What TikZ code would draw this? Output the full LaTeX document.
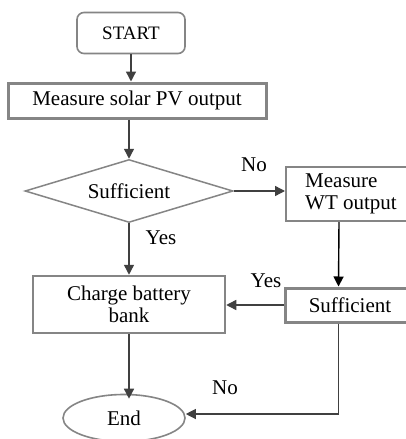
\documentclass[tikz,border=0pt]{standalone}
\usepackage{fontspec}
\setmainfont{Liberation Serif}
\usetikzlibrary{shapes.geometric,arrows.meta,calc}
\definecolor{boxgray}{HTML}{858585}
\definecolor{arrgray}{HTML}{404040}
\begin{document}
\begin{tikzpicture}[x=1pt,y=-1pt,
  every node/.style={font=\fontsize{21}{21.5}\selectfont, text=black},
  boxstyle/.style={draw=boxgray, rectangle, inner sep=0pt},
  flow/.style={draw=arrgray, line width=1.4pt, -{Triangle[length=10pt,width=10pt]}},
  lbl/.style={inner sep=0pt}]
\useasboundingbox (0,0) rectangle (406,439);
\fill[white] (0,0) rectangle (406,439);

\node[boxstyle, line width=1.6pt, rounded corners=7pt, minimum width=108pt, minimum height=41pt, font=\fontsize{19}{20}\selectfont] (start) at (131,33) {START};
\node[boxstyle, line width=3pt, minimum width=258pt, minimum height=35pt] (pv) at (137,100.5) {Measure solar PV output};
\node[draw=boxgray, line width=1.5pt, diamond, aspect=3.3, inner sep=0pt, minimum width=208pt, minimum height=63pt] (dec) at (129,191) {Sufficient};
\node[boxstyle, line width=2pt, minimum width=130pt, minimum height=54pt, align=left] (wt) at (351,194) {Measure\\WT output};
\node[boxstyle, line width=2.5pt, minimum width=192pt, minimum height=57pt, align=center] (charge) at (129,304.5) {Charge battery\\bank};
\node[boxstyle, line width=3pt, minimum width=130pt, minimum height=34pt] (suf) at (350,305) {Sufficient};
\node[draw=boxgray, line width=1.6pt, ellipse, inner sep=0pt, minimum width=122pt, minimum height=47pt] (end) at (124,418) {End};

\draw[flow] (start.south) -- (start.south |- pv.north);
\draw[flow] (dec.north |- pv.south) -- (dec.north);
\draw[flow] (dec.east) -- (dec.east -| wt.west);
\draw[flow] (dec.south) -- (charge.north);
\draw[flow, draw=black] ([xshift=54pt]wt.south west) -- ([xshift=55pt]suf.north west);
\draw[flow] (suf.west) -- (suf.west -| charge.east);
\draw[flow] (charge.south) -- ([yshift=-5pt]charge.south |- end.north);
\draw[flow, line width=1.2pt] ([xshift=55pt]suf.south west) |- ([yshift=4pt]end.east);

\node[lbl] (no1) at (254,165) {No};
\node[lbl] (yes1) at (161,238) {Yes};
\node[lbl] (yes2) at (266,281) {Yes};
\node[lbl] (no2) at (225,388) {No};
\end{tikzpicture}
\end{document}
